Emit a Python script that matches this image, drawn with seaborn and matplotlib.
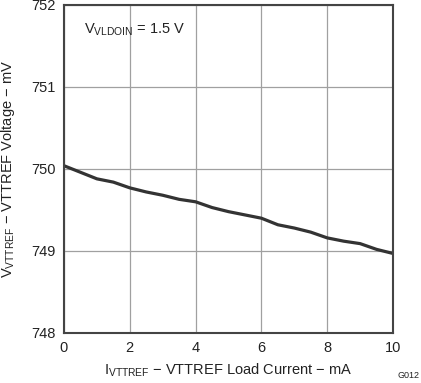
import matplotlib
matplotlib.use("Agg")
import matplotlib.pyplot as plt
import seaborn as sns
import pandas as pd

current_ma = [0, 0.5, 1.0, 1.5, 2.0, 2.5, 3.0, 3.5, 4.0, 4.5, 5.0, 5.5, 6.0, 6.5, 7.0, 7.5, 8.0, 8.5, 9.0, 9.5, 10.0]
voltage_mv = [750.04, 749.96, 749.88, 749.84, 749.77, 749.72, 749.68, 749.63, 749.60, 749.53, 749.48, 749.44, 749.40, 749.32, 749.28, 749.23, 749.16, 749.12, 749.09, 749.02, 748.97]
x_ticks = [0, 2, 4, 6, 8, 10]
y_ticks = [748, 749, 750, 751, 752]

sns.set_style("white")
plt.rcParams['font.family'] = ['Liberation Sans', 'DejaVu Sans']
plt.rcParams['mathtext.fontset'] = 'custom'
plt.rcParams['mathtext.rm'] = 'Liberation Sans'

df = pd.DataFrame({"I": current_ma, "V": voltage_mv})

fig = plt.figure(figsize=(4.21, 3.83), dpi=100)
ax = fig.add_axes([64/421, 1-333/383, (393-64)/421, (333-5)/383])
sns.lineplot(data=df, x="I", y="V", ax=ax, color="#333333", linewidth=2.3)

ax.set_xlim(0, 10)
ax.set_ylim(748, 752)
ax.set_xticks(x_ticks)
ax.set_yticks(y_ticks)
ax.grid(True, color="#a0a0a0", linewidth=0.9)
ax.set_axisbelow(True)
ax.tick_params(length=0, labelsize=10.5, colors="#222222", pad=6)
for s in ax.spines.values():
    s.set_color("#444444")
    s.set_linewidth(1.5)

ax.set_xlabel(r"I$_{\mathregular{VTTREF}}$ − VTTREF Load Current − mA", fontsize=10.5, color="#222222", labelpad=4)
ax.set_ylabel(r"V$_{\mathregular{VTTREF}}$ − VTTREF Voltage − mV", fontsize=10.5, color="#222222", labelpad=10)
ax.text(0.6, 751.7, r"V$_{\mathregular{VLDOIN}}$ = 1.5 V", fontsize=10.5, color="#222222", va="center", ha="left")
fig.text(398/421, 1-376/383, "G012", fontsize=6.5, color="#222222", ha="left", va="center")

fig.savefig("out.png", dpi=100)
